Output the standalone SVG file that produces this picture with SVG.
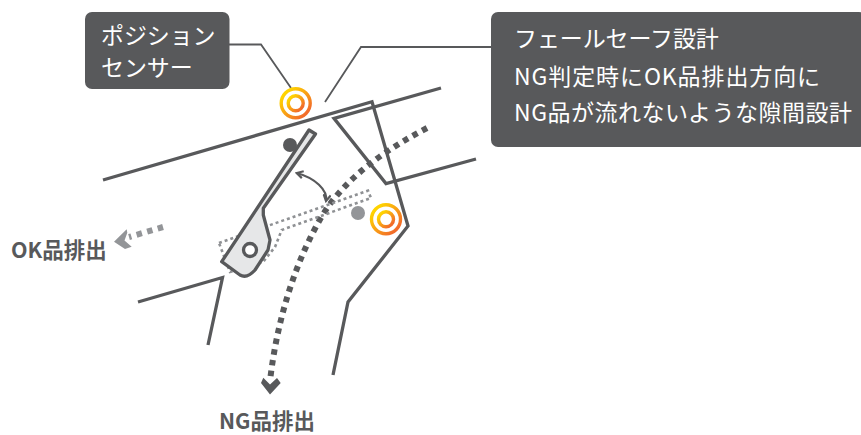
<svg xmlns="http://www.w3.org/2000/svg" width="861" height="435" viewBox="0 0 861 435">
<style>
.ln{fill:none;stroke:#58595b;stroke-width:3.300}
.lead{fill:none;stroke:#58595b;stroke-width:1.800}
.box{fill:#58595b}
.t{font-family:"Noto Sans CJK JP","Noto Sans",sans-serif;font-size:23px;fill:#fff;letter-spacing:.5px}
.k{letter-spacing:-.1px}
.w{letter-spacing:.9px}
.lb{font-family:"Noto Sans CJK JP","Noto Sans",sans-serif;font-size:21.500px;font-weight:700;fill:#58595b}
.sr{fill:none;stroke:url(#g);stroke-width:3.400}
</style>
<defs>
<linearGradient id="g" x1="0" y1="0" x2="1" y2="1"><stop offset=".15" stop-color="#ffd400"/><stop offset=".85" stop-color="#f26c2a"/></linearGradient>
<marker id="ah" viewBox="0 0 10 10" refX="8" refY="5" markerWidth="9" markerHeight="9" orient="auto-start-reverse" markerUnits="userSpaceOnUse"><path d="M1 1L8 5L1 9" fill="none" stroke="#58595b" stroke-width="2.400"/></marker>
</defs>
<g id="connectors">
<path class="lead" d="M229 44.500H261L291 88"/>
<path class="lead" d="M491 47H361L325 102"/>
<path d="M163 227L129 237" fill="none" stroke="#939598" stroke-width="6" stroke-dasharray="5.500 5.500"/>
<path d="M126.700 229.300L114 241.700L125 249L131.700 246.700L124.500 240.500L127.300 232.700Z" fill="#939598"/>
<path d="M427 128C385 150 345 178 322 216C295 262 277 320 270 381" fill="none" stroke="#58595b" stroke-width="6" stroke-dasharray="5.500 5.300"/>
<path d="M261 383L263.300 377.700L270 384.500L277 378L280.700 383L270 394.500Z" fill="#58595b"/>
<path d="M296.700 173C315 178 328 190 326 201" fill="none" stroke="#58595b" stroke-width="2.200" marker-start="url(#ah)" marker-end="url(#ah)"/>
</g>
<g id="chute">
<path class="ln" d="M103 180L372 101.700L408 226L348 302L333 375"/>
<path class="ln" d="M441 88L334 118.300L386 183.500L476 159"/>
<path class="ln" d="M138 302L222.500 277.500L208 345"/>
</g>
<g id="ghost-lever">
<path d="M219 243L368 190.700L371 198L281.700 230L275 247L263 262L230 272Z" fill="none" stroke="#8f9194" stroke-width="2.600" stroke-dasharray="3 3"/>
</g>
<g id="lever">
<path d="M309 130L315.500 134L263.300 208.300V215L270 240L268 250L255 270Q247 279 240 275L221.700 261.700Z" fill="#e6e7e8" stroke="#58595b" stroke-width="3.300" stroke-linejoin="round"/>
<circle cx="250" cy="250" r="6.500" fill="#fff" stroke="#58595b" stroke-width="3.300"/>
</g>
<g id="pivot-dark"><circle cx="290" cy="145" r="7" fill="#58595b"/></g>
<g id="pivot-gray"><circle cx="358" cy="213" r="7" fill="#939598"/></g>
<g id="sensor-top">
<circle class="sr" cx="295.700" cy="103.300" r="14.500"/><circle class="sr" cx="295.700" cy="103.300" r="7.500"/>
</g>
<g id="sensor-right">
<circle class="sr" cx="386" cy="219.300" r="14.500"/><circle class="sr" cx="386" cy="219.300" r="7.500"/>
</g>
<g id="callout-sensor">
<rect class="box" x="85" y="12" width="144.500" height="77" rx="7"/>
<text class="t k" x="101" y="44">ポジション</text>
<text class="t k" x="101" y="76">センサー</text>
</g>
<g id="callout-failsafe">
<rect class="box" x="491" y="12" width="375" height="135" rx="7"/>
<text class="t k" x="514" y="47">フェールセーフ設計</text>
<text class="t w" x="514" y="85">NG判定時にOK品排出方向に</text>
<text class="t" x="514" y="121">NG品が流れないような隙間設計</text>
</g>
<g id="label-ok"><text class="lb" x="11" y="258">OK品排出</text></g>
<g id="label-ng"><text class="lb" x="219" y="429">NG品排出</text></g>
</svg>
